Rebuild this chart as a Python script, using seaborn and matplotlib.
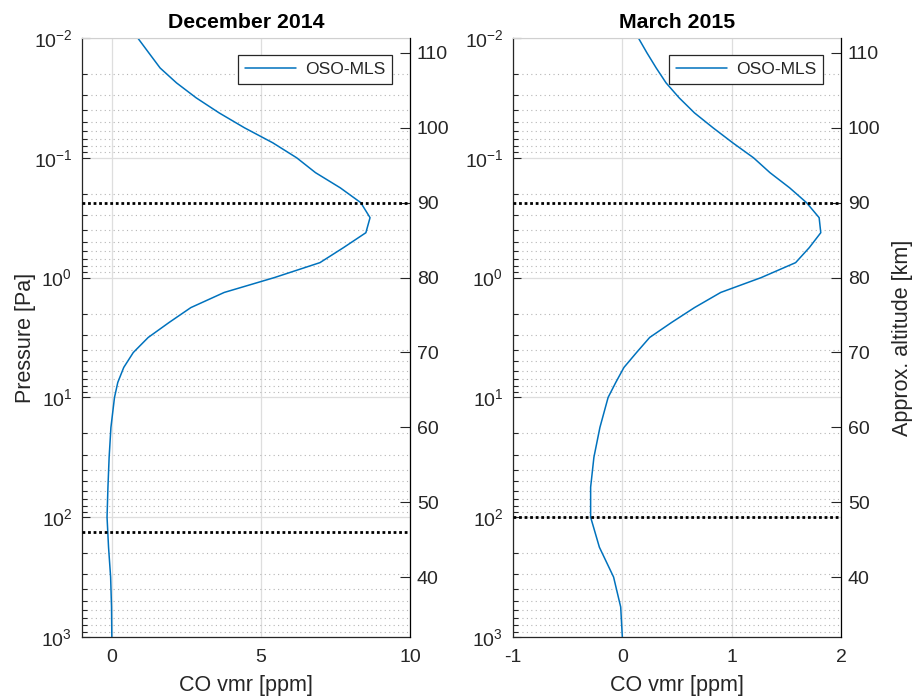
import matplotlib
matplotlib.use("Agg")
import matplotlib.pyplot as plt
import matplotlib.ticker as mticker
import numpy as np
import seaborn as sns

# pressure levels [Pa]
pressure = [0.01, 0.0133, 0.0178, 0.0237, 0.0316, 0.0422, 0.0562, 0.075,
            0.1, 0.133, 0.178, 0.237, 0.316, 0.422, 0.562, 0.75,
            1.0, 1.33, 1.78, 2.37, 3.16, 4.22, 5.62, 7.5,
            10, 17.8, 31.6, 56.2, 100, 178, 316, 562, 1000]

# CO vmr [ppm], OSO-MLS
co_dec2014 = [0.87, 1.24, 1.62, 2.17, 2.83, 3.60, 4.45, 5.40,
              6.20, 6.83, 7.66, 8.35, 8.66, 8.52, 7.77, 6.98,
              5.45, 3.77, 2.65, 1.92, 1.22, 0.72, 0.40, 0.20,
              0.09, -0.03, -0.09, -0.13, -0.16, -0.11, -0.04, -0.01, 0.0]
co_mar2015 = [0.147, 0.225, 0.31, 0.40, 0.52, 0.66, 0.83, 1.01,
              1.20, 1.35, 1.53, 1.685, 1.80, 1.815, 1.71, 1.585,
              1.27, 0.90, 0.66, 0.45, 0.25, 0.13, 0.015, -0.06,
              -0.13, -0.205, -0.26, -0.29, -0.29, -0.21, -0.08, -0.015, 0.0]

titles = ["December 2014", "March 2015"]
xlims = [(-1, 10), (-1, 2)]
xticks = [[0, 5, 10], [-1, 0, 1, 2]]
alt_limits = [[46, 90], [48, 90]]   # km, dotted lines
alt_ticks = [40, 50, 60, 70, 80, 90, 100, 110]

sns.set_style("white")
plt.rcParams["font.family"] = ["Liberation Sans", "DejaVu Sans"]
plt.rcParams["mathtext.fontset"] = "custom"
plt.rcParams["mathtext.rm"] = "Liberation Sans"
plt.rcParams["mathtext.it"] = "Liberation Sans:italic"
plt.rcParams["mathtext.bf"] = "Liberation Sans:bold"
plt.rcParams["axes.unicode_minus"] = False

blue = "#0072BD"
txt = "#262626"

fig = plt.figure(figsize=(9.14, 6.99), dpi=100)
lefts = [82 / 914, 513 / 914]
width = 328 / 914
bottom = 62 / 699
height = 599 / 699

for i, co in enumerate([co_dec2014, co_mar2015]):
    ax = fig.add_axes([lefts[i], bottom, width, height])
    sns.lineplot(x=co, y=pressure, ax=ax, sort=False, estimator=None,
                 color=blue, lw=1.1, label="OSO-MLS")
    ax.set_yscale("log")
    ax.set_ylim(1000, 0.01)
    ax.set_xlim(*xlims[i])
    ax.set_xticks(xticks[i])
    ax.yaxis.set_major_locator(mticker.LogLocator(base=10, numticks=10))
    ax.yaxis.set_minor_locator(mticker.LogLocator(base=10, subs=np.arange(2, 10), numticks=20))
    ax.yaxis.set_minor_formatter(mticker.NullFormatter())

    ax.set_axisbelow(True)
    ax.grid(True, which="major", axis="both", color="#dedede", lw=0.9, ls="-")
    ax.grid(True, which="minor", axis="y", color="#b5b5b5", lw=0.8, ls=(0, (1, 3)))

    ax.tick_params(axis="both", which="major", direction="in", length=6,
                   width=0.8, labelsize=14, colors=txt)
    ax.tick_params(axis="y", which="minor", direction="in", length=3.5,
                   width=0.8, colors=txt)
    ax.tick_params(axis="x", pad=9)
    ax.tick_params(axis="y", pad=7)
    ax.tick_params(axis="y", which="both", right=False)
    for s in ["left", "bottom"]:
        ax.spines[s].set_color(txt)
        ax.spines[s].set_linewidth(0.9)
    ax.spines["top"].set_color("#d0d0d0")
    ax.spines["right"].set_visible(False)

    ax.set_xlabel("CO vmr [ppm]", fontsize=15.5, color=txt, labelpad=6)
    if i == 0:
        ax.set_ylabel("Pressure [Pa]", fontsize=15.5, color=txt, labelpad=-2)
    else:
        ax.set_ylabel("")
    ax.set_title(titles[i], fontsize=15.3, fontweight="bold", color="black", pad=7)

    leg = ax.legend(loc="upper right", bbox_to_anchor=(1 - 18 / 328, 1 - 17 / 599),
                    borderaxespad=0, fontsize=12.6, frameon=True, fancybox=False,
                    framealpha=1, edgecolor=txt, handlelength=2.9,
                    handletextpad=0.5, borderpad=0.4)
    leg.get_frame().set_linewidth(0.9)

    ax2 = ax.twinx()
    ax2.set_ylim(32, 112)
    ax2.set_yticks(alt_ticks)
    for a in alt_limits[i]:
        ax2.axhline(a, color="black", lw=2, ls=(0, (1, 1)))
    ax2.tick_params(axis="y", direction="in", length=7, width=0.8,
                    labelsize=14, colors=txt, pad=5)
    for s in ["left", "top", "bottom"]:
        ax2.spines[s].set_visible(False)
    ax2.spines["right"].set_color("black")
    ax2.spines["right"].set_linewidth(0.9)
    if i == 1:
        ax2.set_ylabel("Approx. altitude [km]", fontsize=15.5, color=txt, labelpad=8)

fig.savefig("out.png", dpi=100)
